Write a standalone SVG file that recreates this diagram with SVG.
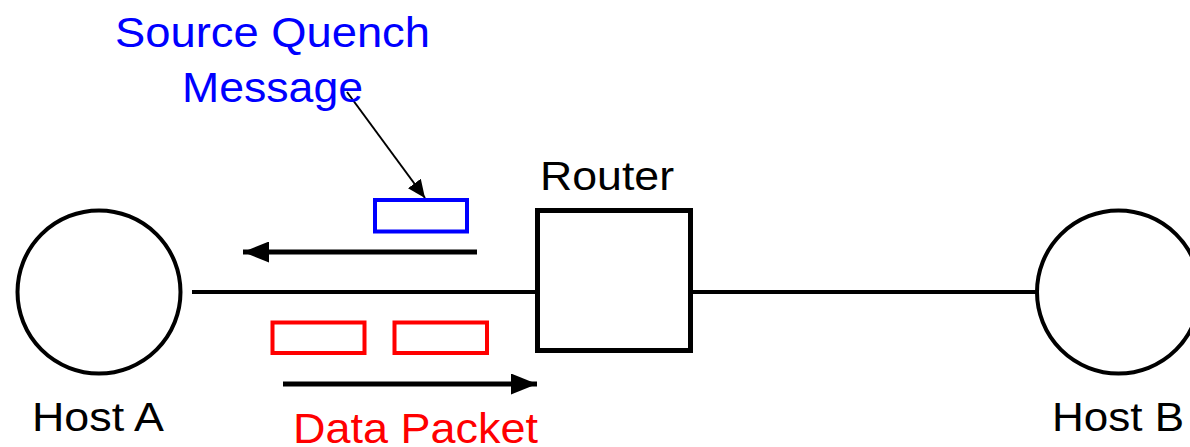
<svg xmlns="http://www.w3.org/2000/svg" width="1190" height="447" viewBox="0 0 1190 447">
  <defs>
    <style>
      .lbl { font-family: "Liberation Sans", Arial, sans-serif; }
      .blk { fill: #000; }
      .node { fill: #fff; stroke: #000; stroke-width: 4; }
      .link { stroke: #000; stroke-width: 4; fill: none; }
      .pkt-red { fill: #fff; stroke: #ff0000; stroke-width: 4; }
      .pkt-blue { fill: #fff; stroke: #0000ff; stroke-width: 4; }
      .arrow { stroke: #000; stroke-width: 5; fill: none; }
      .thin { stroke: #000; stroke-width: 2; fill: none; }
    </style>
    <marker id="bigHead" viewBox="0 0 26 21" refX="26" refY="10.5" markerWidth="26" markerHeight="21" markerUnits="userSpaceOnUse" orient="auto">
      <path d="M0,0 L26,10.5 L0,21 Z" fill="#000"/>
    </marker>
    <marker id="smallHead" viewBox="0 0 18 16" refX="18" refY="8" markerWidth="18" markerHeight="16" markerUnits="userSpaceOnUse" orient="auto">
      <path d="M0,0 L18,8 L0,16 Z" fill="#000"/>
    </marker>
  </defs>
  <rect width="1190" height="447" fill="#fff"/>

  <g id="connectors">
    <line class="link" x1="192" y1="292" x2="537" y2="292"/>
    <line class="link" x1="691" y1="292" x2="1037" y2="292"/>
    <line class="arrow" x1="477" y1="252" x2="243" y2="252" marker-end="url(#bigHead)"/>
    <line class="arrow" x1="283" y1="384" x2="537" y2="384" marker-end="url(#bigHead)"/>
    <line class="thin" x1="347" y1="92" x2="425" y2="198" marker-end="url(#smallHead)"/>
  </g>

  <g id="hostA">
    <circle class="node" cx="99" cy="292" r="81.5"/>
    <text class="lbl blk" x="32" y="431" font-size="40" textLength="132" lengthAdjust="spacingAndGlyphs">Host A</text>
  </g>

  <g id="hostB">
    <circle class="node" cx="1118.5" cy="292" r="81.5"/>
    <text class="lbl blk" x="1052" y="431" font-size="40" textLength="132" lengthAdjust="spacingAndGlyphs">Host B</text>
  </g>

  <g id="router">
    <rect x="537.5" y="210.5" width="153" height="140" fill="#fff" stroke="#000" stroke-width="5"/>
    <text class="lbl blk" x="540" y="190" font-size="40" textLength="134" lengthAdjust="spacingAndGlyphs">Router</text>
  </g>

  <g id="source-quench">
    <rect class="pkt-blue" x="375" y="200" width="92" height="31.5"/>
    <text class="lbl" fill="#0000ff" font-size="43">
      <tspan x="115" y="47" textLength="315" lengthAdjust="spacingAndGlyphs">Source Quench</tspan>
      <tspan x="182" y="102" textLength="181" lengthAdjust="spacingAndGlyphs">Message</tspan>
    </text>
  </g>

  <g id="data-packets">
    <rect class="pkt-red" x="272.5" y="322.5" width="92" height="30.5"/>
    <rect class="pkt-red" x="394.5" y="322.5" width="92.5" height="30.5"/>
    <text class="lbl" fill="#ff0000" x="293" y="443" font-size="43" textLength="245" lengthAdjust="spacingAndGlyphs">Data Packet</text>
  </g>
</svg>
